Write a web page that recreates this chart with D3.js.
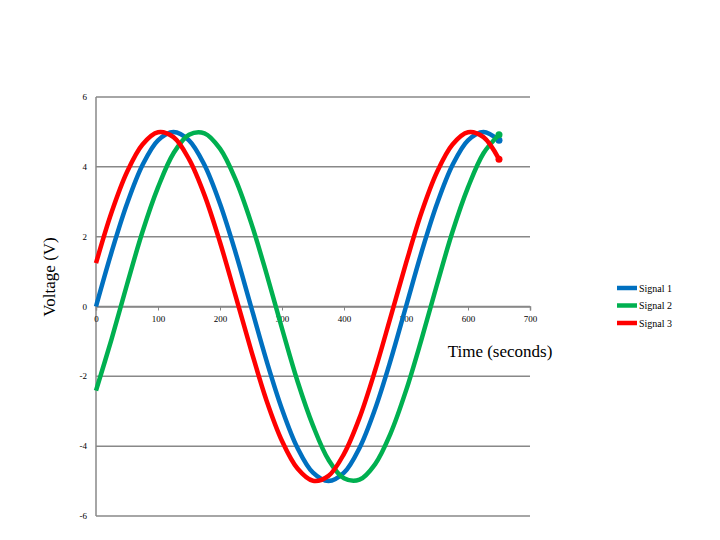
<!doctype html>
<html>
<head>
<meta charset="utf-8"/>
<script src="https://d3js.org/d3.v7.min.js"></script>
<style>
body { margin: 0; background: #fff; }
text { font-family: "Liberation Serif", "DejaVu Serif", serif; }
</style>
</head>
<body>
<div id="chart"></div>
<script>
// time values (seconds)
var times = [0,25,50,75,100,125,150,175,200,225,250,275,300,325,350,375,400,425,450,475,500,525,550,575,600,625,650];
var signal1 = [0,1.55,2.94,4.05,4.76,5,4.76,4.05,2.94,1.55,0,-1.55,-2.94,-4.05,-4.76,-5,-4.76,-4.05,-2.94,-1.55,0,1.55,2.94,4.05,4.76,5,4.76];
var signal2 = [-2.41,-0.94,0.63,2.14,3.41,4.39,4.92,4.96,4.52,3.64,2.41,0.94,-0.63,-2.14,-3.41,-4.39,-4.92,-4.96,-4.52,-3.64,-2.41,-0.94,0.63,2.14,3.41,4.39,4.92];
var signal3 = [1.24,2.69,3.85,4.64,4.99,4.85,4.22,3.19,1.84,0.31,-1.24,-2.69,-3.85,-4.64,-4.99,-4.85,-4.22,-3.19,-1.84,-0.31,1.24,2.69,3.85,4.64,4.99,4.85,4.22];
var seriesNames = ["Signal 1","Signal 2","Signal 3"];
var seriesColors = ["#0070c0","#00b050","#ff0000"];
var xTicks = [0,100,200,300,400,500,600,700];
var yTicks = [-6,-4,-2,0,2,4,6];

var svg = d3.select("#chart").append("svg").attr("width",720).attr("height",540);

var x = d3.scaleLinear().domain([0,700]).range([96,530]);
var y = d3.scaleLinear().domain([-6,6]).range([516,97]);

// horizontal gridlines
svg.selectAll(".grid").data(yTicks).enter().append("line")
  .attr("x1",x(0)).attr("x2",x(700))
  .attr("y1",d=>y(d)).attr("y2",d=>y(d))
  .attr("stroke","#888").attr("stroke-width",1.5);

// y axis line
svg.append("line").attr("x1",x(0)).attr("x2",x(0)).attr("y1",y(6)).attr("y2",y(-6))
  .attr("stroke","#888").attr("stroke-width",1.5);

// y tick labels
svg.selectAll(".ylab").data(yTicks).enter().append("text")
  .attr("x",x(0)-9).attr("y",d=>y(d)+3).attr("text-anchor","end")
  .attr("font-size",9).text(d=>d);

// x axis ticks and labels at y=0
var xa = d3.axisBottom(x).tickValues(xTicks).tickSize(4).tickFormat(d3.format("d"));
var g = svg.append("g").attr("transform","translate(0,"+y(0)+")").call(xa);
g.select(".domain").attr("stroke","#888").attr("stroke-width",1.5);
g.selectAll(".tick line").attr("stroke","#888");
g.selectAll(".tick text").attr("font-size",9).attr("dy","0.9em")
  .style("font-family","Liberation Serif, serif");

var line = d3.line().x((d,i)=>x(times[i])).y(d=>y(d)).curve(d3.curveCatmullRom);
var all = [signal1, signal2, signal3];
all.forEach(function(s,k){
  svg.append("path").datum(s).attr("d",line).attr("fill","none")
    .attr("stroke",seriesColors[k]).attr("stroke-width",4.5);
  svg.append("circle").attr("cx",x(times[times.length-1])).attr("cy",y(s[s.length-1]))
    .attr("r",3.5).attr("fill",seriesColors[k]);
});

// axis titles
svg.append("text").attr("x",500).attr("y",357).attr("text-anchor","middle")
  .attr("font-size",17).text("Time (seconds)");
svg.append("text").attr("transform","translate(55,277) rotate(-90)")
  .attr("text-anchor","middle").attr("font-size",17).text("Voltage (V)");

// legend
seriesNames.forEach(function(n,k){
  var ly = 288 + k*17.5;
  svg.append("line").attr("x1",617).attr("x2",637).attr("y1",ly).attr("y2",ly)
    .attr("stroke",seriesColors[k]).attr("stroke-width",4.5);
  svg.append("text").attr("x",639).attr("y",ly+3.5).attr("font-size",10).text(n);
});
</script>
</body>
</html>
